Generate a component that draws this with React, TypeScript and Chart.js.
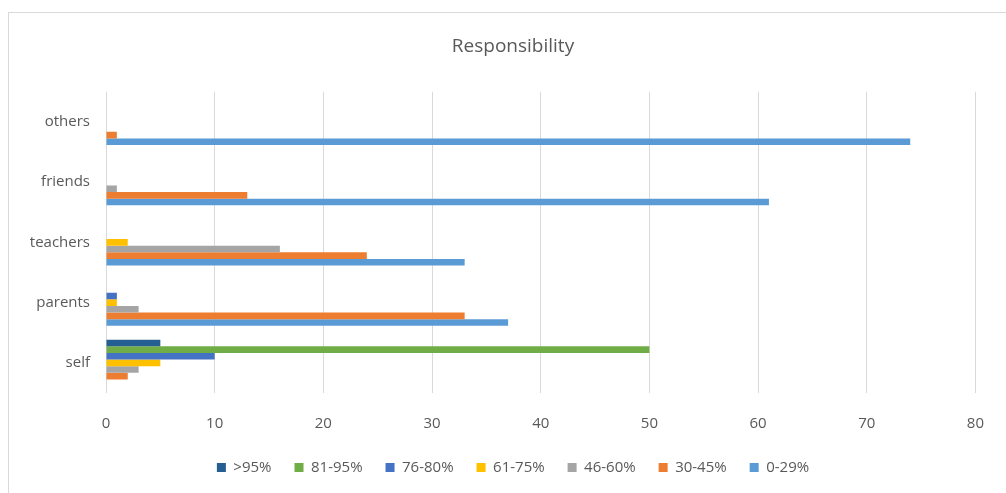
import React, { useEffect, useRef } from 'react';
import { Chart, registerables } from 'chart.js';

Chart.register(...registerables);

const categories = ['others', 'friends', 'teachers', 'parents', 'self'];
const seriesNames = ['>95%', '81-95%', '76-80%', '61-75%', '46-60%', '30-45%', '0-29%'];
const above95 = [0, 0, 0, 0, 5];
const from81to95 = [0, 0, 0, 0, 50];
const from76to80 = [0, 0, 0, 1, 10];
const from61to75 = [0, 0, 2, 1, 5];
const from46to60 = [0, 1, 16, 3, 3];
const from30to45 = [1, 13, 24, 33, 2];
const from0to29 = [74, 61, 33, 37, 0];
const seriesColors = ['#255E91', '#70AD47', '#4472C4', '#FFC000', '#A5A5A5', '#ED7D31', '#5B9BD5'];
const xMin = 0;
const xMax = 80;
const xStep = 10;

const FONT = "'Open Sans', sans-serif";
const TEXT = '#595959';

const centerShift = {
  id: 'centerShift',
  afterLayout(chart: any) {
    const shift = 513 - (chart.width - 30) / 2;
    if (chart.legend) {
      chart.legend.left += shift;
      chart.legend.right += shift;
    }
    if (chart.titleBlock) {
      chart.titleBlock.left += shift;
      chart.titleBlock.right += shift;
    }
  },
};

export default function App() {
  const ref = useRef<HTMLCanvasElement | null>(null);

  useEffect(() => {
    if (!ref.current) return;
    const values = [above95, from81to95, from76to80, from61to75, from46to60, from30to45, from0to29];
    const chart = new Chart(ref.current, {
      type: 'bar',
      data: {
        labels: categories,
        datasets: seriesNames.map((name, i) => ({
          label: name,
          data: values[i],
          backgroundColor: seriesColors[i],
          borderWidth: 0,
          categoryPercentage: 0.77,
          barPercentage: 1.0,
        })),
      },
      options: {
        indexAxis: 'y',
        animation: false,
        responsive: true,
        maintainAspectRatio: false,
        layout: { padding: { left: 0, right: 30, top: 0, bottom: 8 } },
        plugins: {
          title: {
            display: true,
            text: 'Responsibility',
            color: TEXT,
            font: { family: FONT, size: 19, weight: 'normal' },
            padding: { top: 35, bottom: 34 },
          },
          legend: {
            position: 'bottom',
            labels: {
              boxWidth: 9,
              boxHeight: 9,
              padding: 23,
              color: TEXT,
              font: { family: FONT, size: 15 },
            },
          },
          tooltip: { enabled: false },
        },
        scales: {
          x: {
            min: xMin,
            max: xMax,
            afterFit: (scale: any) => {
              scale.height = 44;
            },
            ticks: {
              stepSize: xStep,
              color: TEXT,
              font: { family: FONT, size: 15 },
              padding: 22,
            },
            grid: { color: '#D9D9D9', lineWidth: 1, drawTicks: false },
            border: { display: false },
          },
          y: {
            afterFit: (scale: any) => {
              scale.width = 106;
            },
            ticks: {
              color: TEXT,
              font: { family: FONT, size: 15 },
              padding: 16,
            },
            grid: { display: false, drawTicks: false },
            border: { display: false },
          },
        },
      },
      plugins: [centerShift],
    });
    return () => chart.destroy();
  }, []);

  return (
    <div style={{ position: 'absolute', left: 0, top: 0, width: 1006, height: 493, overflow: 'hidden', background: '#fff' }}>
      <div style={{ position: 'absolute', left: 8, top: 12, width: 1100, height: 600, border: '1px solid #D9D9D9' }} />
      <div style={{ position: 'absolute', left: 0, top: 0, width: 1006, height: 493 }}>
        <canvas ref={ref} />
      </div>
    </div>
  );
}
